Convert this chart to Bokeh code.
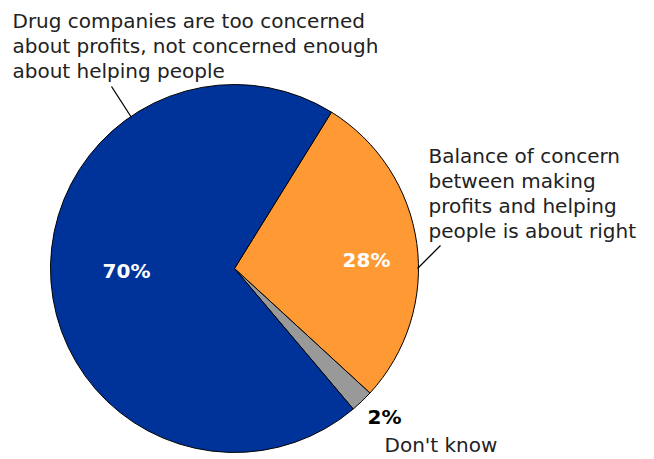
import math
from bokeh.plotting import figure
from bokeh.models import ColumnDataSource
from bokeh.core.properties import value
from bokeh.embed import file_html
from bokeh.resources import INLINE

categories = ["Balance of concern between making profits and helping people is about right",
              "Don't know",
              "Drug companies are too concerned about profits, not concerned enough about helping people"]
shares = [28, 2, 70]
pct_labels = ["28%", "2%", "70%"]
colors = ["#FF9933", "#999999", "#003399"]

W, H = 652, 457
p = figure(width=W, height=H, x_range=(0, W), y_range=(0, H), output_backend="svg",
           toolbar_location=None, min_border=0)
p.axis.visible = False
p.grid.visible = False
p.outline_line_color = None

def Y(py):
    return H - py

def X(px):
    return px

cx, cy, r = X(234), Y(268), 184
top = math.radians(58.2)
total = sum(shares)
starts, ends = [], []
acc = 0
for s in shares:
    ends.append(top - 2 * math.pi * acc / total)
    acc += s
    starts.append(top - 2 * math.pi * acc / total)

src = ColumnDataSource(dict(start=starts, end=ends, color=colors))
p.wedge(x=cx, y=cy, radius=r, radius_units="screen", start_angle="start", end_angle="end",
        fill_color="color", line_color="black", line_width=1, source=src)

font = value("DejaVu Sans")
fs = "20px"
# leader lines
p.line(x=[X(111), X(131)], y=[Y(86), Y(117)], line_color="black", line_width=1.3)
p.line(x=[X(440), X(417)], y=[Y(245), Y(268)], line_color="black", line_width=1.3)

d = 7  # baseline correction
p.text(x=[X(12)] * 3, y=[Y(27 - d), Y(52 - d), Y(77 - d)],
       text=["Drug companies are too concerned", "about profits, not concerned enough", "about helping people"],
       text_font=font, text_font_size=fs, text_color="#222222", text_baseline="alphabetic")
p.text(x=[X(428)] * 4, y=[Y(162 - d), Y(187 - d), Y(212 - d), Y(237 - d)],
       text=["Balance of concern", "between making", "profits and helping", "people is about right"],
       text_font=font, text_font_size=fs, text_color="#222222", text_baseline="alphabetic")
p.text(x=[X(384)], y=[Y(451 - d)], text=["Don't know"],
       text_font=font, text_font_size=fs, text_color="#222222", text_baseline="alphabetic")

p.text(x=[X(366), X(367), X(126)], y=[Y(259), Y(416), Y(270)], text=pct_labels,
       text_font=font, text_font_size="20px", text_font_style="bold",
       text_color=["white", "black", "white"], text_align=["center", "left", "center"],
       text_baseline="middle")

open("out.html", "w").write(file_html(p, INLINE))
